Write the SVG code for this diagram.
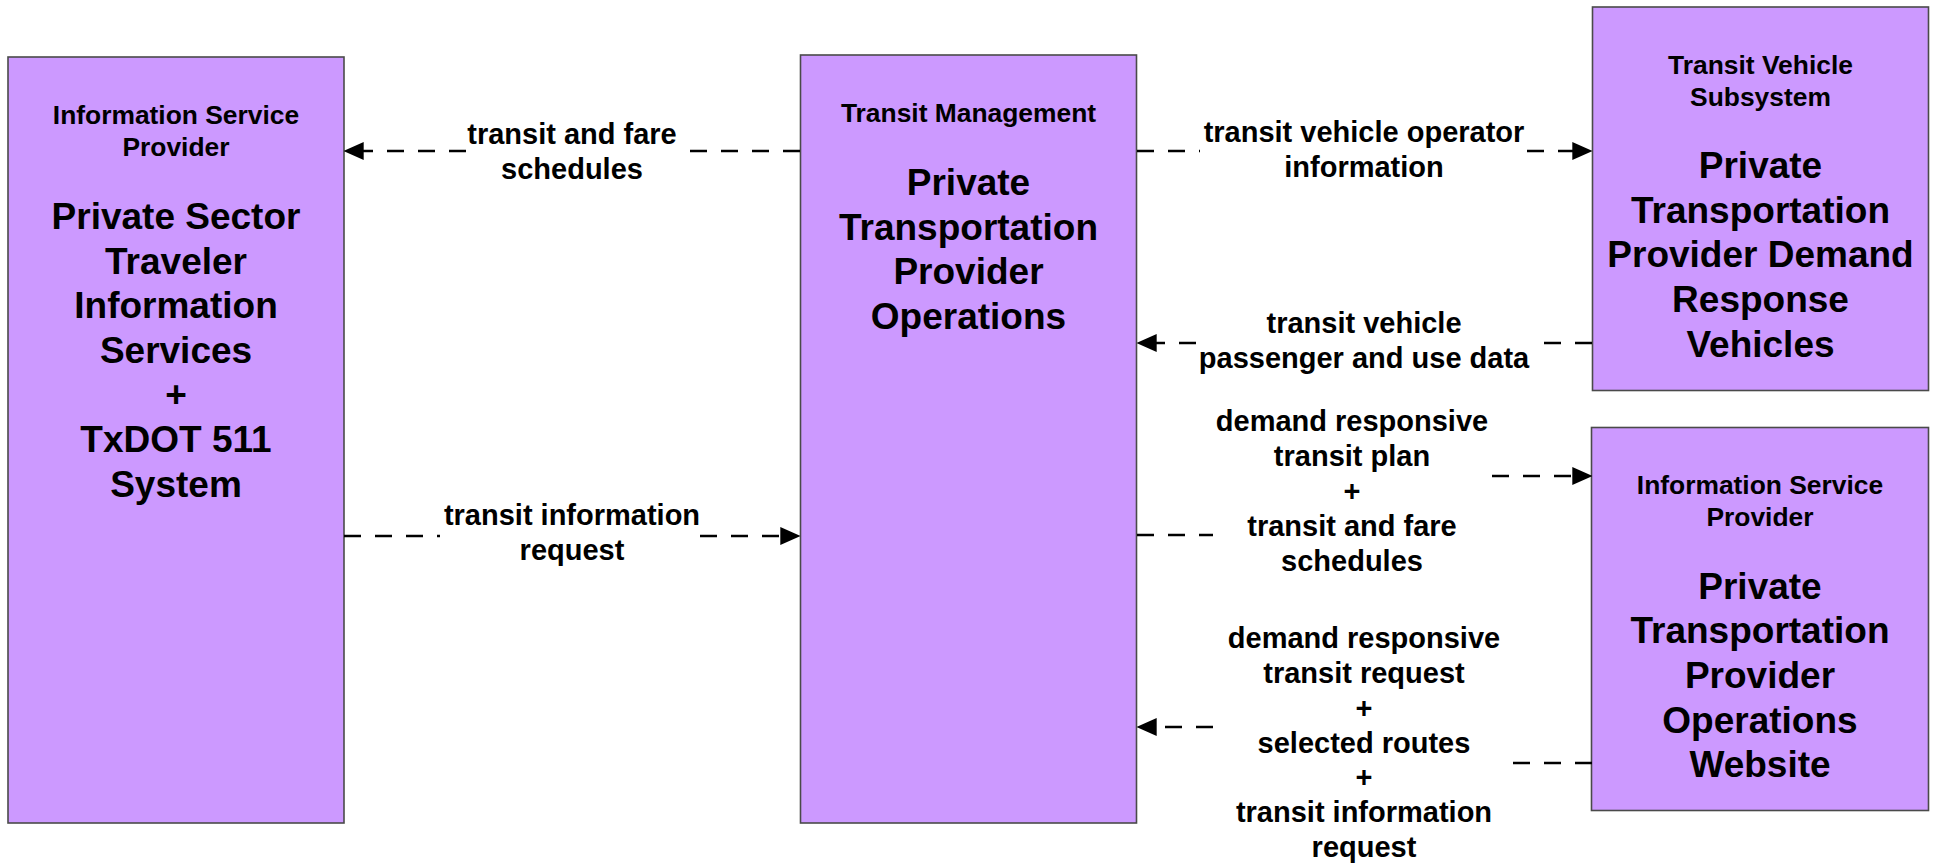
<svg xmlns="http://www.w3.org/2000/svg" width="1937" height="866" viewBox="0 0 1937 866">
<style>
.box{fill:#CC99FF;stroke:#4a4a4a;stroke-width:1.6}
.hdr{font-family:"Liberation Sans",Arial,sans-serif;font-weight:bold;font-size:26.4px;fill:#000;text-anchor:middle}
.ttl{font-family:"Liberation Sans",Arial,sans-serif;font-weight:bold;font-size:37px;fill:#000;text-anchor:middle}
.lbl{font-family:"Liberation Sans",Arial,sans-serif;font-weight:bold;font-size:29px;fill:#000;text-anchor:middle}
.flow{fill:none;stroke:#000;stroke-width:2.7;stroke-dasharray:17 14;marker-end:url(#arr)}
</style>
<defs>
<marker id="arr" markerUnits="userSpaceOnUse" markerWidth="20" markerHeight="18" refX="13" refY="8.5" orient="auto" viewBox="0 0 19 17">
<path d="M0,0 L19,8.5 L0,17 z" fill="#000"/>
</marker>
</defs>
<rect width="1937" height="866" fill="#fff"/>
<g id="node-private-sector-traveler">
<rect class="box" x="8" y="57" width="336" height="766"/>
<text class="hdr"><tspan x="176" y="124">Information Service</tspan><tspan x="176" y="155.5">Provider</tspan></text>
<text class="ttl"><tspan x="176" y="229">Private Sector</tspan><tspan x="176" y="273.6">Traveler</tspan><tspan x="176" y="318.2">Information</tspan><tspan x="176" y="362.8">Services</tspan><tspan x="176" y="407.4">+</tspan><tspan x="176" y="452">TxDOT 511</tspan><tspan x="176" y="496.6">System</tspan></text>
</g>
<g id="node-transit-management">
<rect class="box" x="800.5" y="55" width="336" height="768"/>
<text class="hdr"><tspan x="968.5" y="121.5">Transit Management</tspan></text>
<text class="ttl"><tspan x="968.5" y="195">Private</tspan><tspan x="968.5" y="239.5">Transportation</tspan><tspan x="968.5" y="284">Provider</tspan><tspan x="968.5" y="328.5">Operations</tspan></text>
</g>
<g id="node-transit-vehicle">
<rect class="box" x="1592.5" y="7" width="336" height="383.5"/>
<text class="hdr"><tspan x="1760.5" y="74">Transit Vehicle</tspan><tspan x="1760.5" y="106">Subsystem</tspan></text>
<text class="ttl"><tspan x="1760.5" y="178">Private</tspan><tspan x="1760.5" y="222.7">Transportation</tspan><tspan x="1760.5" y="267.4">Provider Demand</tspan><tspan x="1760.5" y="312">Response</tspan><tspan x="1760.5" y="356.7">Vehicles</tspan></text>
</g>
<g id="node-operations-website">
<rect class="box" x="1591.5" y="427.5" width="337" height="383"/>
<text class="hdr"><tspan x="1760" y="494">Information Service</tspan><tspan x="1760" y="526">Provider</tspan></text>
<text class="ttl"><tspan x="1760" y="598.5">Private</tspan><tspan x="1760" y="643.2">Transportation</tspan><tspan x="1760" y="688">Provider</tspan><tspan x="1760" y="732.6">Operations</tspan><tspan x="1760" y="777.3">Website</tspan></text>
</g>
<g id="connectors">
<path class="flow" d="M800 151 H687 M466 151 H350"/>
<path class="flow" d="M344 536 H440 M700 536 H794"/>
<path class="flow" d="M1137 151 H1200 M1527 151 H1586"/>
<path class="flow" d="M1592 343 H1542 M1196 343 H1143"/>
<path class="flow" d="M1137 535 H1213 M1492 476 H1586"/>
<path class="flow" d="M1592 763 H1508 M1213 727 H1143"/>
<text class="lbl"><tspan x="572" y="143.5">transit and fare</tspan><tspan x="572" y="178.5">schedules</tspan></text>
<text class="lbl"><tspan x="572" y="525">transit information</tspan><tspan x="572" y="560">request</tspan></text>
<text class="lbl"><tspan x="1364" y="142">transit vehicle operator</tspan><tspan x="1364" y="177">information</tspan></text>
<text class="lbl"><tspan x="1364" y="333">transit vehicle</tspan><tspan x="1364" y="368">passenger and use data</tspan></text>
<text class="lbl"><tspan x="1352" y="431">demand responsive</tspan><tspan x="1352" y="466">transit plan</tspan><tspan x="1352" y="501">+</tspan><tspan x="1352" y="536">transit and fare</tspan><tspan x="1352" y="571">schedules</tspan></text>
<text class="lbl"><tspan x="1364" y="648">demand responsive</tspan><tspan x="1364" y="683">transit request</tspan><tspan x="1364" y="718">+</tspan><tspan x="1364" y="752.5">selected routes</tspan><tspan x="1364" y="787">+</tspan><tspan x="1364" y="822">transit information</tspan><tspan x="1364" y="857">request</tspan></text>
</g>
</svg>
